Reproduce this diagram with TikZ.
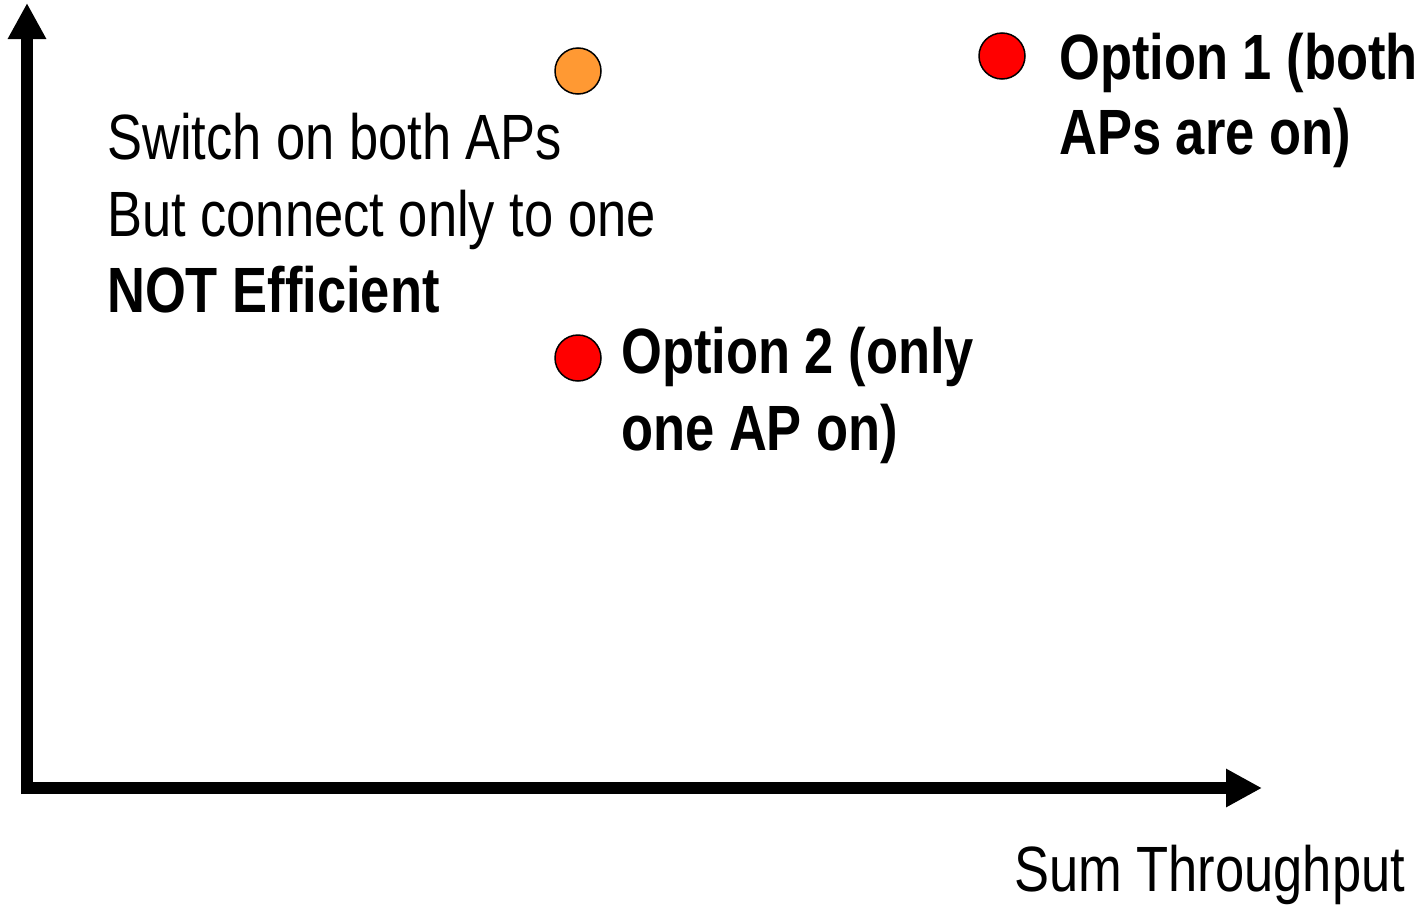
\documentclass[tikz,border=0pt]{standalone}
\usepackage{fontspec}
\setmainfont{Liberation Sans}[FakeStretch=0.82]
\usetikzlibrary{arrows.meta}
\definecolor{ptorange}{HTML}{FF9933}
\definecolor{ptred}{HTML}{FF0000}
\begin{document}
\begin{tikzpicture}[x=1pt,y=-1pt,
  axis/.style={line width=12pt,-{Triangle[length=36pt,width=36pt]}},
  pt/.style={circle,draw=black,line width=1.5pt,minimum size=46pt,inner sep=0pt},
  lbl/.style={anchor=base west,inner sep=0pt,font=\fontsize{64}{77}\selectfont},
  blbl/.style={lbl,font=\fontsize{64}{77}\selectfont\bfseries}]
  \useasboundingbox (0,0) rectangle (1420,905);

  % axes
  \coordinate (corner) at (27,794);
  \coordinate (origin) at (21,788);
  \coordinate (ytip) at (27,3);
  \coordinate (xtip) at (1262,788);
  \draw[axis] (corner) -- (ytip);
  \draw[axis] (origin) -- (xtip);

  % operating points
  \node[pt,fill=ptorange] (p0) at (578,71) {};
  \node[pt,fill=ptred] (p1) at (1002,56) {};
  \node[pt,fill=ptred] (p2) at (578,358) {};

  % labels
  \node[lbl] (t1) at (107,159) {Switch on both APs};
  \node[lbl] (t2) at (107,236) {But connect only to one};
  \node[blbl] (t3) at (107,312) {NOT Efficient};
  \node[blbl] (o1a) at (1059,79) {Option 1 (both};
  \node[blbl] (o1b) at (1059,154) {APs are on)};
  \node[blbl] (o2a) at (621,373) {Option 2 (only};
  \node[blbl] (o2b) at (621,450) {one AP on)};
  \node[lbl] (xl) at (1014,891) {Sum Throughput};
\end{tikzpicture}
\end{document}
